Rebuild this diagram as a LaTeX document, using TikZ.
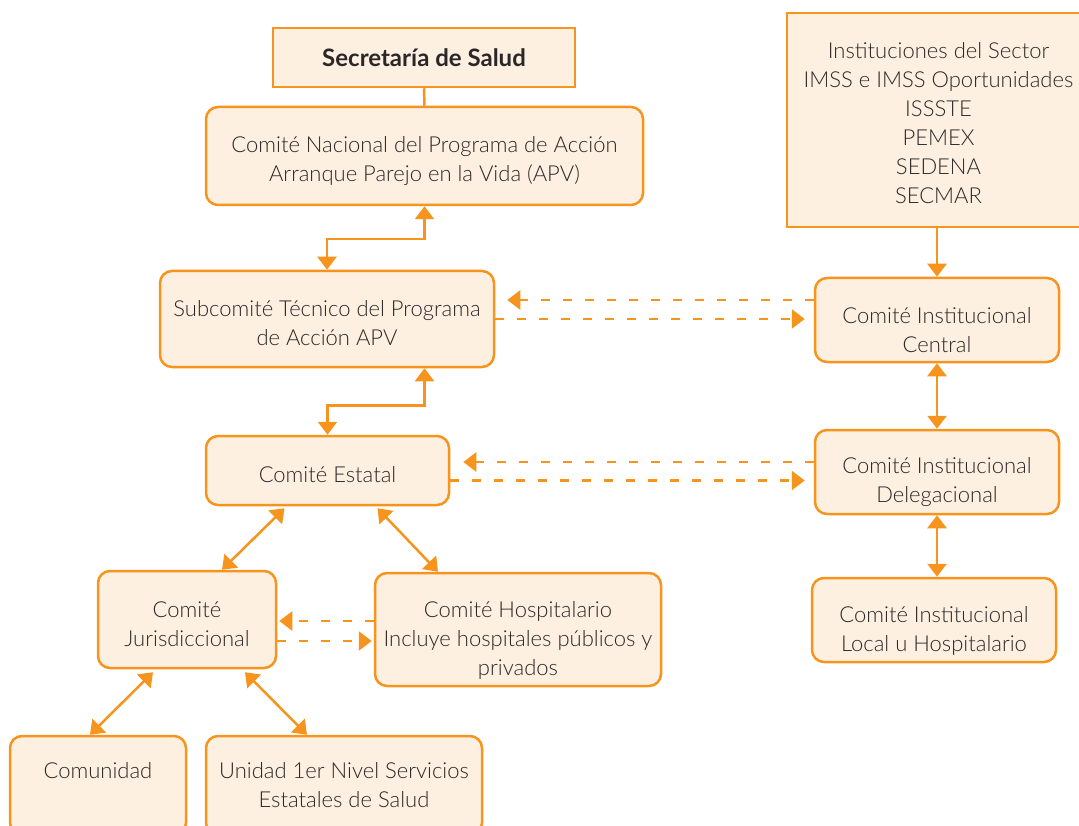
\documentclass[tikz,border=0pt]{standalone}
\usepackage{fontspec}
\setmainfont{Lato}[UprightFont={* Light}, BoldFont={* Bold}]
\usetikzlibrary{arrows.meta,positioning}

\definecolor{apvorange}{HTML}{F7941D}
\definecolor{apvcream}{HTML}{FDF0E1}
\definecolor{apvtext}{HTML}{2B2728}

% invisible strut that lowers the text a little in its box
\newcommand{\padtop}[1]{\rule{0pt}{#1}}

\begin{document}
\begin{tikzpicture}[x=1pt, y=-1pt]
 \tikzset{
box/.style = {draw=apvorange, fill=apvcream, line width=2.5pt, rounded corners=12pt, align=center, text=apvtext, inner sep=0pt, font=\fontsize{22}{29}\selectfont},
sqbox/.style = {box, rounded corners=0pt},
link/.style = {draw=apvorange, line width=2.5pt},
both/.style = {link, {Triangle[length=13pt,width=19pt]}-{Triangle[length=13pt,width=19pt]}},
one/.style = {link, -{Triangle[length=13pt,width=19pt]}},
dashflow/.style = {one, dash pattern=on 9pt off 13pt}}

\useasboundingbox (0,0) rectangle (1079,826);

     % left column
     \node [sqbox, minimum width=302, minimum height=59, font=\fontsize{24}{29}\selectfont\bfseries] (sec) at (424,57.5) {Secretaría de Salud};
     \node [box, minimum width=437, minimum height=98] (nac) at (424.5,156) {\padtop{26pt}Comité Nacional del Programa de Acción\\Arranque Parejo en la Vida (APV)};
     \node [box, minimum width=334, minimum height=96] (sub) at (327,319) {\padtop{24pt}Subcomité Técnico del Programa\\de Acción APV};
     \node [box, minimum width=243, minimum height=69] (est) at (327.5,470.5) {\padtop{24pt}Comité Estatal};
     \node [box, minimum width=178, minimum height=97] (jur) at (187,619.5) {\padtop{25pt}Comité\\Jurisdiccional};
     \node [box, minimum width=286, minimum height=113] (hos) at (518,629.5) {\padtop{38pt}Comité Hospitalario\\Incluye hospitales públicos y\\privados};
     \node [box, minimum width=176, minimum height=99] (com) at (98,785.5) {Comunidad\\\phantom{Salud}};
     \node [box, minimum width=276, minimum height=99] (uni) at (344,785.5) {Unidad 1er Nivel Servicios\\Estatales de Salud};

     % right column
     \node [sqbox, minimum width=303, minimum height=214] (inst) at (938.5,120) {\padtop{22pt}Instituciones del Sector\\IMSS e IMSS Oportunidades\\ISSSTE\\PEMEX\\SEDENA\\SECMAR};
     \node [box, minimum width=244, minimum height=84] (cen) at (937,320) {\padtop{36pt}Comité Institucional\\Central};
     \node [box, minimum width=244, minimum height=84] (del) at (937,472) {\padtop{37pt}Comité Institucional\\Delegacional};
     \node [box, minimum width=244, minimum height=84] (loc) at (934,620) {\padtop{38pt}Comité Institucional\\Local u Hospitalario};

      \draw [link] (sec.south) -- (nac.north);
      \draw [both] (nac.south) -- ++(0,33) -| (sub.north);
      \draw [both] (sub.south -| nac.south) -- ++(0,37) -| (est.north);
      \draw [one] (inst.south -| cen.north) -- (cen.north);
      \draw [both] (cen.south) -- (del.north);
      \draw [both] (del.south) -- (del.south |- loc.north);

      \draw [dashflow] ([yshift=20pt]cen.west) -- ([yshift=20pt,xshift=12pt]cen.west -| sub.east);
      \draw [dashflow] (sub.east) -- ([xshift=-9pt]sub.east -| cen.west);
      \draw [dashflow] ([yshift=10pt]del.west) -- ([yshift=10pt,xshift=13pt]del.west -| est.east);
      \draw [dashflow] ([yshift=-10pt]est.east) -- ([yshift=-10pt,xshift=-9pt]est.east -| del.west);
      \draw [dashflow] ([yshift=8.5pt]hos.west) -- ([yshift=8.5pt,xshift=2pt]hos.west -| jur.east);
      \draw [dashflow] ([yshift=-21.5pt]jur.east) -- ([yshift=-21.5pt,xshift=-2pt]jur.east -| hos.west);

      \draw [both] ([xshift=-43pt,yshift=-2pt]est.south) -- ([xshift=35pt]jur.north);
      \draw [both] ([xshift=50pt,yshift=-2pt]est.south) -- ([xshift=-80pt]hos.north);
      \draw [both] ([xshift=-34pt,yshift=-3pt]jur.south) -- ([xshift=-8pt]com.north);
      \draw [both] ([xshift=58pt,yshift=-3pt]jur.south) -- ([xshift=-37pt]uni.north);

  \end{tikzpicture}
\end{document}
